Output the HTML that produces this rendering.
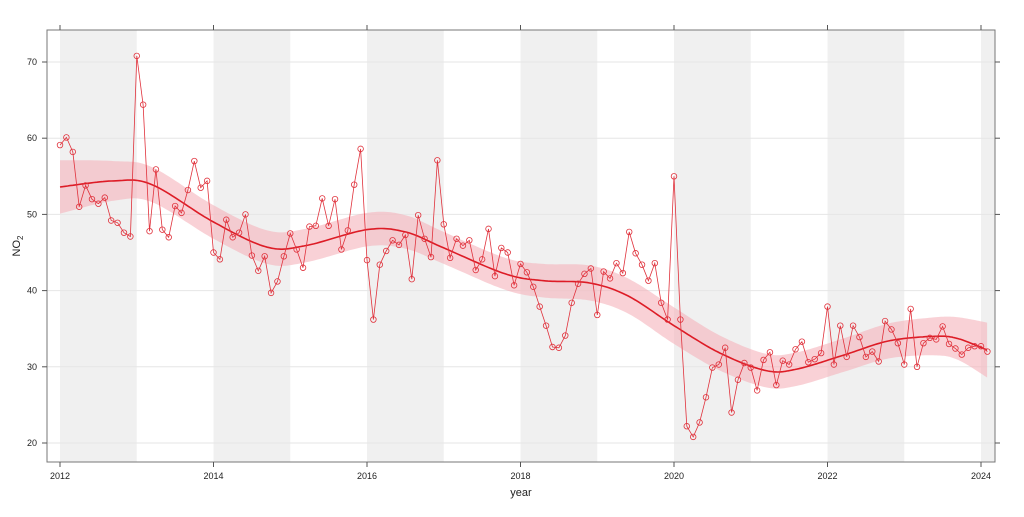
<!DOCTYPE html>
<html><head><meta charset="utf-8"><style>
body{margin:0;background:#fff;font-family:"Liberation Sans",sans-serif}
svg text{font-family:"Liberation Sans",sans-serif}
</style></head><body>
<svg id="chart" width="1024" height="512" xmlns="http://www.w3.org/2000/svg"></svg>
<script>
const yearTicks=[2012,2014,2016,2018,2020,2022,2024];
const yTicks=[20,30,40,50,60,70];
const startYear=2012;
const no2Monthly=[
59.1,60.1,58.2,51.0,53.8,52.0,51.4,52.2,49.2,48.9,47.6,47.1,
70.8,64.4,47.8,55.9,48.0,47.0,51.1,50.2,53.2,57.0,53.5,54.4,
45.0,44.1,49.3,47.0,47.6,50.0,44.6,42.6,44.5,39.7,41.2,44.5,
47.5,45.4,43.0,48.4,48.5,52.1,48.5,52.0,45.4,47.9,53.9,58.6,
44.0,36.2,43.4,45.2,46.6,46.0,47.3,41.5,49.9,46.8,44.4,57.1,
48.7,44.3,46.8,45.9,46.6,42.7,44.1,48.1,41.9,45.6,45.0,40.7,
43.5,42.4,40.5,37.9,35.4,32.6,32.5,34.1,38.4,40.9,42.2,42.9,
36.8,42.5,41.6,43.6,42.3,47.7,44.9,43.4,41.3,43.6,38.4,36.2,
55.0,36.2,22.2,20.8,22.7,26.0,29.9,30.3,32.5,24.0,28.3,30.5,
29.9,26.9,30.9,31.9,27.6,30.8,30.3,32.3,33.3,30.6,31.0,31.8,
37.9,30.3,35.4,31.3,35.4,33.9,31.3,32.0,30.7,36.0,34.9,33.1,
30.3,37.6,30.0,33.1,33.8,33.6,35.3,33.0,32.4,31.6,32.5,32.7,
32.7,32.0];
const smoothYears=[2012,2012.7,2013.2,2014,2014.7,2015.2,2016,2016.5,2017,2017.8,2018.3,2018.9,2019.4,2020,2020.6,2021.2,2021.6,2022.2,2022.8,2023.4,2023.7,2024.08];
const smoothFit=[53.6,54.4,53.9,49.0,45.7,45.9,48.0,47.7,45.6,42.2,41.3,41.0,39.3,35.4,31.8,29.5,29.7,31.5,33.4,34.0,33.7,32.2];
const smoothHalf=[3.5,2.6,2.3,2.2,2.2,2.2,2.2,2.2,2.1,2.1,2.2,2.3,2.3,2.4,2.3,2.2,2.2,2.2,2.3,2.5,2.8,3.6];

const svg=document.getElementById('chart');
const NS='http://www.w3.org/2000/svg';
const L=47,R=995,T=30,B=462;
const xS=y=>60+(y-2012)*(981-60)/12;
const yS=v=>443-(v-20)*(443-62)/50;
function mk(tag,attrs,parent){const e=document.createElementNS(NS,tag);for(const k in attrs)e.setAttribute(k,attrs[k]);(parent||svg).appendChild(e);return e;}

for(let yr=2012;yr<=2024;yr+=2){
  const x0=xS(yr),x1=Math.min(xS(yr+1),R);
  const r=mk('rect',{x:x0,y:T,width:x1-x0,height:B-T,fill:'#f0f0f0'});
  
  
}
yTicks.forEach(v=>{
  const l=mk('line',{x1:L,x2:R,y1:yS(v),y2:yS(v),stroke:'#e6e6e6','stroke-width':1});
  
  
});
function spline(xs,ys){
  const pts=[];
  for(let i=0;i<xs.length-1;i++){
    const p0=[xs[Math.max(i-1,0)],ys[Math.max(i-1,0)]],p1=[xs[i],ys[i]],p2=[xs[i+1],ys[i+1]],p3=[xs[Math.min(i+2,xs.length-1)],ys[Math.min(i+2,xs.length-1)]];
    for(let t=0;t<1;t+=0.05){
      const t2=t*t,t3=t2*t;
      const f=(a,b,c,d)=>0.5*((2*b)+(-a+c)*t+(2*a-5*b+4*c-d)*t2+(-a+3*b-3*c+d)*t3);
      pts.push([f(p0[0],p1[0],p2[0],p3[0]),f(p0[1],p1[1],p2[1],p3[1])]);
    }
  }
  pts.push([xs[xs.length-1],ys[ys.length-1]]);
  return pts;
}
const up=spline(smoothYears,smoothFit.map((v,i)=>v+smoothHalf[i]));
const lo=spline(smoothYears,smoothFit.map((v,i)=>v-smoothHalf[i]));
const mid=spline(smoothYears,smoothFit);
let d='M'+up.map(p=>xS(p[0]).toFixed(1)+','+yS(p[1]).toFixed(1)).join('L');
d+='L'+lo.slice().reverse().map(p=>xS(p[0]).toFixed(1)+','+yS(p[1]).toFixed(1)).join('L')+'Z';
const band=mk('path',{d:d,fill:'#f5b3ba','fill-opacity':0.6});


const fit=mk('path',{d:'M'+mid.map(p=>xS(p[0]).toFixed(1)+','+yS(p[1]).toFixed(1)).join('L'),fill:'none',stroke:'#dd1c26','stroke-width':1.6});


const pos=no2Monthly.map((v,i)=>[xS(startYear+i/12),yS(v)]);
const dl=mk('polyline',{points:pos.map(p=>p[0].toFixed(1)+','+p[1].toFixed(1)).join(' '),fill:'none',stroke:'#e0323c','stroke-width':0.8});


pos.forEach((p,i)=>{
  const c=mk('circle',{cx:p[0],cy:p[1],r:2.8,fill:'none',stroke:'#e0323c','stroke-width':0.8});
  
  
});
const fr=mk('rect',{x:L,y:T,width:R-L,height:B-T,fill:'none',stroke:'#777','stroke-width':1});


yTicks.forEach(v=>{
  mk('line',{x1:L-5,x2:L,y1:yS(v),y2:yS(v),stroke:'#555'});
  mk('line',{x1:R,x2:R+5,y1:yS(v),y2:yS(v),stroke:'#555'});
  const t=mk('text',{x:L-10,y:yS(v)+3,'font-size':9,'text-anchor':'end',fill:'#222'});
  t.textContent=v;
  
  
});
yearTicks.forEach(yr=>{
  mk('line',{x1:xS(yr),x2:xS(yr),y1:B,y2:B+5,stroke:'#555'});
  mk('line',{x1:xS(yr),x2:xS(yr),y1:T-5,y2:T,stroke:'#555'});
  const t=mk('text',{x:xS(yr),y:B+17,'font-size':9,'text-anchor':'middle',fill:'#222'});
  t.textContent=yr;
  
  
});
const xt=mk('text',{x:521,y:496,'font-size':11,'text-anchor':'middle',fill:'#222'});
xt.textContent='year';


const yt=mk('text',{x:0,y:0,'font-size':11,'text-anchor':'middle',fill:'#222',transform:'translate(20,246) rotate(-90)'});
yt.innerHTML='NO<tspan font-size="8" dy="3">2</tspan>';


</script>
</body></html>
